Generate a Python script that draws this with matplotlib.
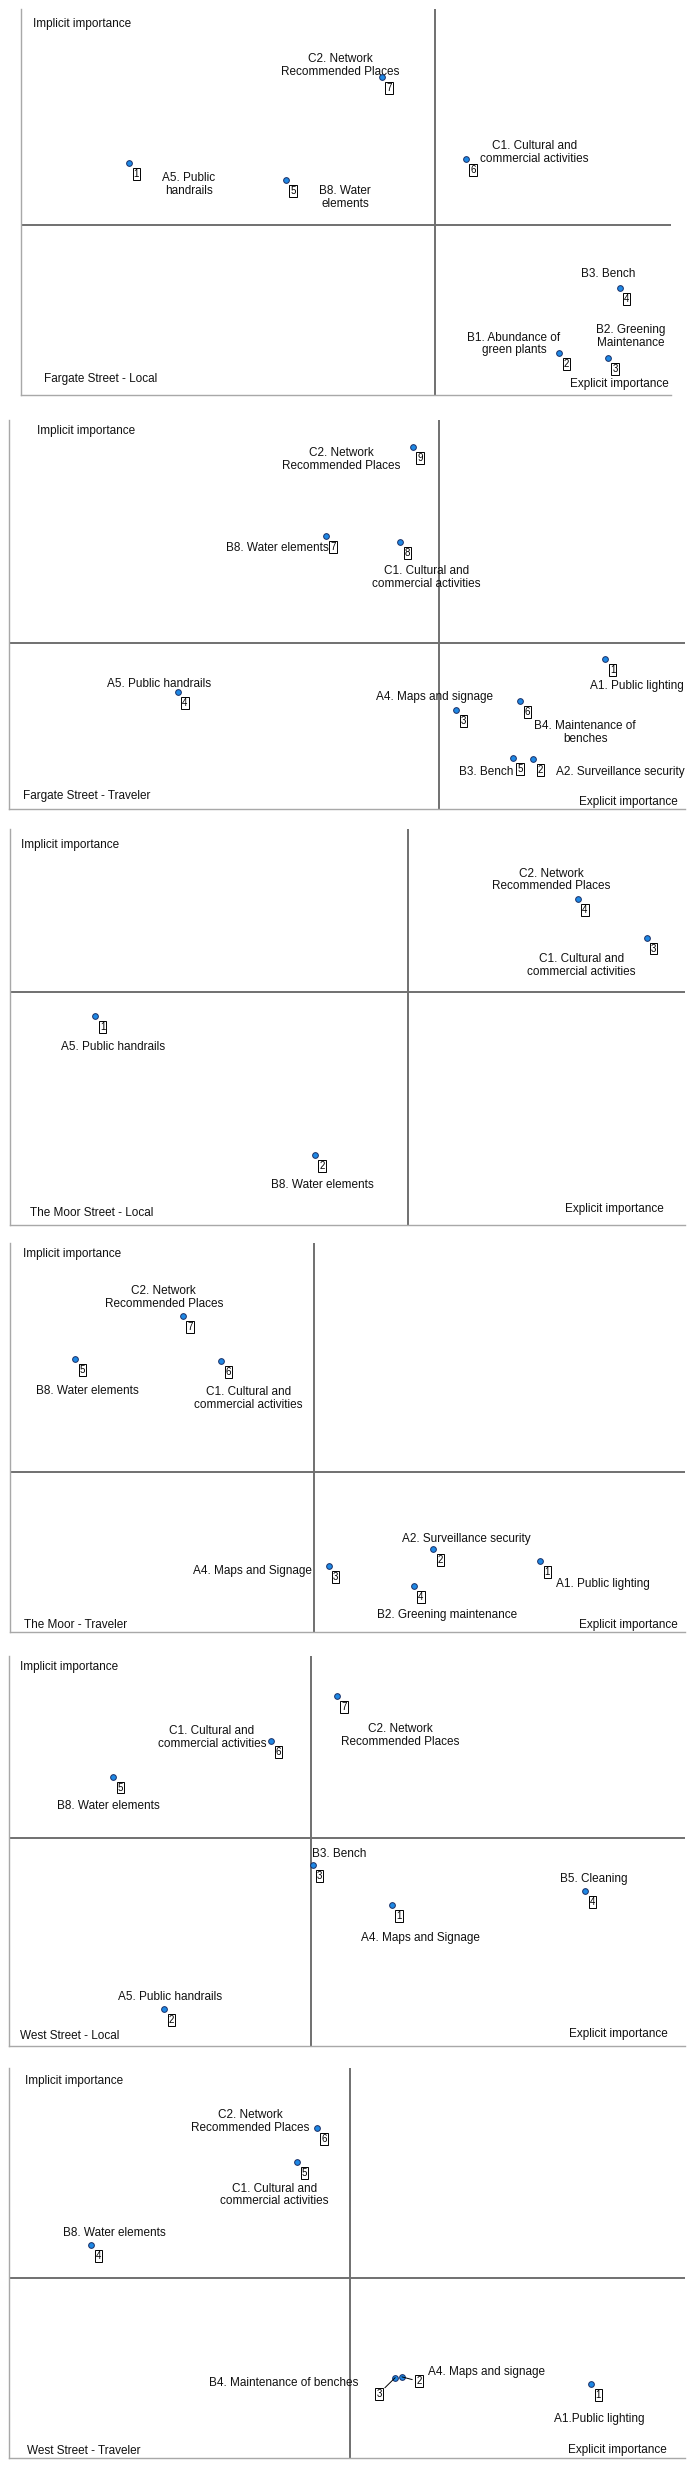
import matplotlib
matplotlib.use("Agg")
import matplotlib.pyplot as plt

plt.rcParams['font.family'] = ['Liberation Sans', 'DejaVu Sans']

# ---------------- data ----------------
titles = ["Fargate Street - Local", "Fargate Street - Traveler", "The Moor Street - Local",
          "The Moor - Traveler", "West Street - Local", "West Street - Traveler"]

p1_ids = [1, 2, 3, 4, 5, 6, 7]
p1_labels = ["A5. Public\nhandrails", "B1. Abundance of\ngreen plants", "B2. Greening\nMaintenance",
             "B3. Bench", "B8. Water\nelements", "C1. Cultural and\ncommercial activities",
             "C2. Network\nRecommended Places"]
p1_x = [16.6, 82.8, 90.3, 92.1, 40.7, 68.4, 55.5]
p1_y = [60.2, 10.8, 9.7, 27.6, 55.7, 61.1, 82.5]
p1_mean = (63.7, 44.0)

p2_ids = [1, 2, 3, 4, 5, 6, 7, 8, 9]
p2_labels = ["A1. Public lighting", "A2. Surveillance security", "A4. Maps and signage",
             "A5. Public handrails", "B3. Bench", "B4. Maintenance of\nbenches",
             "B8. Water elements", "C1. Cultural and\ncommercial activities",
             "C2. Network\nRecommended Places"]
p2_x = [88.3, 77.6, 66.2, 25.0, 74.6, 75.7, 46.9, 57.9, 59.8]
p2_y = [38.5, 12.8, 25.4, 30.0, 13.0, 27.7, 70.2, 68.6, 93.1]
p2_mean = (63.6, 42.7)

p3_ids = [1, 2, 3, 4]
p3_labels = ["A5. Public handrails", "B8. Water elements",
             "C1. Cultural and\ncommercial activities", "C2. Network\nRecommended Places"]
p3_x = [12.7, 45.2, 94.4, 84.2]
p3_y = [52.8, 17.7, 72.6, 82.4]
p3_mean = (59.0, 58.8)

p4_ids = [1, 2, 3, 4, 5, 6, 7]
p4_labels = ["A1. Public lighting", "A2. Surveillance security", "A4. Maps and Signage",
             "B2. Greening maintenance", "B8. Water elements",
             "C1. Cultural and\ncommercial activities", "C2. Network\nRecommended Places"]
p4_x = [78.5, 62.7, 47.2, 59.8, 9.7, 31.3, 25.6]
p4_y = [18.2, 21.3, 16.9, 11.8, 70.2, 69.6, 81.2]
p4_mean = (45.0, 41.1)

p5_ids = [1, 2, 3, 4, 5, 6, 7]
p5_labels = ["A4. Maps and Signage", "A5. Public handrails", "B3. Bench", "B5. Cleaning",
             "B8. Water elements", "C1. Cultural and\ncommercial activities",
             "C2. Network\nRecommended Places"]
p5_x = [56.6, 23.0, 44.9, 85.2, 15.4, 38.8, 48.5]
p5_y = [36.2, 9.5, 46.5, 39.8, 69.1, 78.3, 89.7]
p5_mean = (44.7, 53.3)

p6_ids = [1, 2, 3, 4, 5, 6]
p6_labels = ["A1.Public lighting", "A4. Maps and signage", "B4. Maintenance of benches",
             "B8. Water elements", "C1. Cultural and\ncommercial activities",
             "C2. Network\nRecommended Places"]
p6_x = [86.1, 58.1, 57.1, 12.2, 42.6, 45.5]
p6_y = [19.0, 20.8, 20.6, 54.6, 75.9, 84.5]
p6_mean = (50.4, 46.2)

# ---------------- layout (pixels) ----------------
W, H = 697, 2469
# left, right, top, bottom of each panel in pixels
boxes = [(21.4, 671.0, 9, 395), (9.0, 684.5, 420, 809), (9.8, 684.5, 829, 1225),
         (9.8, 685.4, 1243, 1632), (8.9, 685.4, 1656, 2046), (8.9, 685.4, 2068, 2458)]
# label offsets from point, in pixels (dx right, dy down)
lab_off = [
    [(59.4, 22.3), (-45.4, -9.3), (22.5, -21), (-11.2, -14.6), (59.3, 17.3), (68.7, -7), (-41.8, -11)],
    [(31.5, 26.4), (86.7, 13), (-21.6, -13.3), (-18.9, -8.3), (-26.6, 14), (64.7, 31), (-48.7, 12),
     (26.1, 35.7), (-71.4, 12.6)],
    [(18, 30.7), (7.2, 30.3), (-65.1, 28.3), (-27, -18.7)],
    [(62.9, 22.7), (33.3, -10.6), (-76.7, 4.4), (33.7, 29), (12.5, 32), (27.4, 37.4), (-18.9, -18.3)],
    [(28.3, 33.3), (5.8, -12.3), (26.1, -10.7), (8.5, -11.4), (-5, 29.3), (-59.4, -3.4), (63.4, 39.7)],
    [(7.6, 34.7), (84.1, -4.4), (-111, 5.7), (23.4, -11.7), (-22.5, 33), (-66.7, -6.6)],
]
default_box = (7.1, 11)
box_off = [dict(), dict(), dict(), dict(), dict(), {2: (17, 4.5), 3: (-16.3, 16)}]
leader = [set(), set(), set(), set(), set(), {2, 3}]
# corner texts offsets (pixels)
implicit_off = [(12, 15.3), (27.7, 11), (11.6, 16), (13.3, 11.3), (11.1, 11.3), (16.5, 13)]
title_off = [(23.1, 16), (14.1, 13), (20.5, 11.7), (14.7, 7), (11.1, 10), (17.8, 7.3)]
explicit_off = [(-2, 10.7), (-6.7, 7.3), (-20.5, 15.7), (-7.6, 7), (-17.8, 11.7), (-18.7, 8)]

panels = [
    (p1_ids, p1_labels, p1_x, p1_y, p1_mean),
    (p2_ids, p2_labels, p2_x, p2_y, p2_mean),
    (p3_ids, p3_labels, p3_x, p3_y, p3_mean),
    (p4_ids, p4_labels, p4_x, p4_y, p4_mean),
    (p5_ids, p5_labels, p5_x, p5_y, p5_mean),
    (p6_ids, p6_labels, p6_x, p6_y, p6_mean),
]

PT = 0.72  # points per pixel at dpi 100
FS = 8.5
SPINE = '#a8a8a8'
CROSS = '#707070'

fig = plt.figure(figsize=(W / 100, H / 100), dpi=100)
fig.patch.set_facecolor('white')

for k, (ids, labels, xs, ys, mean) in enumerate(panels):
    l, r, t, b = boxes[k]
    ax = fig.add_axes([l / W, 1 - b / H, (r - l) / W, (b - t) / H])
    ax.set_xlim(0, 100)
    ax.set_ylim(0, 100)
    ax.set_xticks([])
    ax.set_yticks([])
    for s in ['top', 'right']:
        ax.spines[s].set_visible(False)
    for s in ['left', 'bottom']:
        ax.spines[s].set_color(SPINE)
        ax.spines[s].set_linewidth(1.0)
    ax.axvline(mean[0], color=CROSS, lw=1.4, zorder=1)
    ax.axhline(mean[1], color=CROSS, lw=1.4, zorder=1)

    ax.scatter(xs, ys, s=17, facecolor='#1e88e5', edgecolor='#1a2f66', linewidth=0.7, zorder=4)

    for i, (pid, lab, x, y) in enumerate(zip(ids, labels, xs, ys)):
        dx, dy = lab_off[k][i]
        ax.annotate(lab, (x, y), xytext=(dx * PT, -dy * PT), textcoords='offset points',
                    ha='center', va='center', fontsize=FS, linespacing=1.1, color='#111111',
                    zorder=3)
        bx, by = box_off[k].get(pid, default_box)
        ap = None
        if pid in leader[k]:
            ap = dict(arrowstyle='-', color='black', lw=0.7, shrinkA=2, shrinkB=0)
        ax.annotate(str(pid), (x, y), xytext=(bx * PT, -by * PT), textcoords='offset points',
                    ha='center', va='center', fontsize=7, color='black', zorder=5,
                    bbox=dict(boxstyle='square,pad=0.1', fc='white', ec='black', lw=0.7),
                    arrowprops=ap)

    ix, iy = implicit_off[k]
    ax.annotate("Implicit importance", (0, 1), xycoords='axes fraction',
                xytext=(ix * PT, -iy * PT), textcoords='offset points',
                ha='left', va='center', fontsize=FS, color='#111111')
    tx, ty = title_off[k]
    ax.annotate(titles[k], (0, 0), xycoords='axes fraction',
                xytext=(tx * PT, ty * PT), textcoords='offset points',
                ha='left', va='center', fontsize=FS, color='#111111')
    ex, ey = explicit_off[k]
    ax.annotate("Explicit importance", (1, 0), xycoords='axes fraction',
                xytext=(ex * PT, ey * PT), textcoords='offset points',
                ha='right', va='center', fontsize=FS, color='#111111')

fig.savefig("out.png", dpi=100, facecolor='white')
